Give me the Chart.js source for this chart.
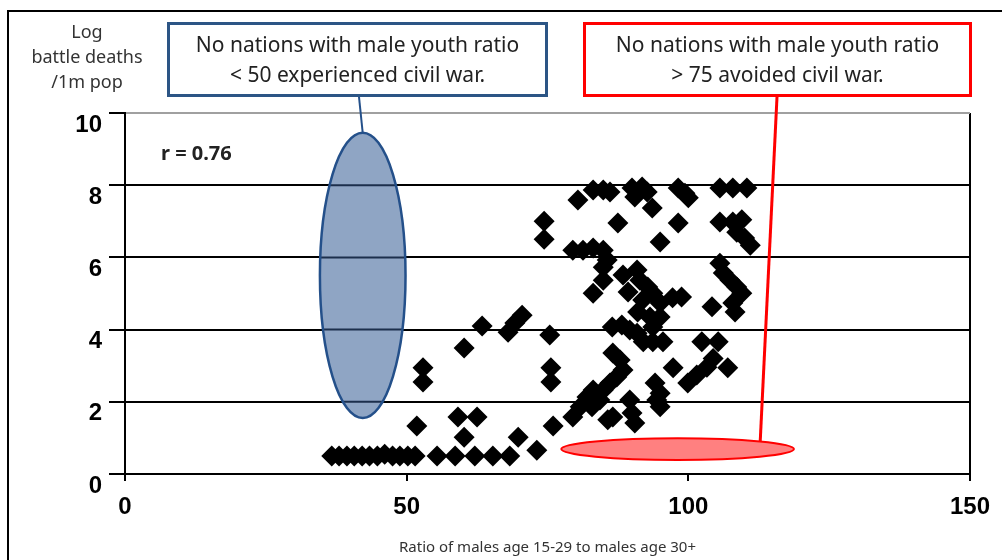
<!DOCTYPE html>
<html><head><meta charset="utf-8">
<script src="https://cdn.jsdelivr.net/npm/chart.js@4.4.1/dist/chart.umd.min.js"></script>
<style>
html,body{margin:0;padding:0;background:#fff;}
#wrap{position:relative;width:1002px;height:560px;overflow:hidden;font-family:"Noto Sans",sans-serif;}
#c{position:absolute;left:0;top:0;}
.frame{position:absolute;left:7px;top:10px;width:1100px;height:700px;border-left:2px solid #000;border-top:2px solid #000;pointer-events:none;}
.callout{position:absolute;top:22px;height:75px;background:#fff;box-sizing:border-box;text-align:center;font-size:21px;line-height:30px;color:#222;padding-top:4px;white-space:nowrap;}
#blueBox{left:167px;width:381px;border:3px solid #2c5585;}
#redBox{left:583px;width:389px;border:3px solid #ff0000;}
#ytitle{position:absolute;left:27px;width:120px;top:19px;text-align:center;font-size:18px;line-height:25px;color:#333;}
#rtext{position:absolute;left:161px;top:140px;font-size:20px;font-weight:bold;line-height:26px;color:#222;}
</style>
</head><body>
<div id="wrap">
<canvas id="c" width="1002" height="560"></canvas>
<div class="frame"></div>
<div id="ytitle">Log<br>battle deaths<br>/1m pop</div>
<div class="callout" id="blueBox">No nations with male youth ratio<br>&lt; 50 experienced civil war.</div>
<div class="callout" id="redBox">No nations with male youth ratio<br>&gt; 75 avoided civil war.</div>
<div id="rtext">r = 0.76</div>
</div>
<script>
// ---- data ----
const xValues = [
36.7,38.0,39.4,40.7,42.1,43.4,44.8,46.1,47.5,48.8,50.2,51.5,
55.4,58.6,62.1,65.3,68.3,
51.8,52.9,52.9,59.1,62.5,60.2,60.2,63.4,68.0,69.2,70.5,
75.4,75.6,75.6,76.0,69.8,73.1,74.4,74.4,
80.4,83.1,84.9,86.1,90.0,91.8,90.5,92.7,93.6,98.2,99.4,100.0,105.6,107.9,110.4,
87.5,98.2,95.0,105.6,107.9,109.5,108.6,110.0,111.0,
79.5,81.3,83.1,84.9,85.6,84.9,84.9,83.1,
88.4,90.9,89.3,91.4,92.8,91.9,93.7,95.0,97.2,98.8,
91.0,93.2,95.0,93.7,86.5,88.2,89.6,90.9,92.0,93.7,95.5,102.4,105.3,
104.4,103.3,101.5,99.9,107.0,97.3,
104.2,105.6,106.2,107.4,108.6,109.5,107.9,108.3,
86.6,87.9,88.4,87.3,86.1,84.9,83.1,82.0,80.8,79.5,82.9,84.3,
85.7,86.6,90.0,90.5,89.6,94.1,95.0,95.0,94.4
];
const yValues = [
0.5,0.5,0.5,0.5,0.5,0.5,0.5,0.55,0.5,0.5,0.5,0.5,
0.5,0.5,0.5,0.5,0.5,
1.33,2.94,2.55,1.58,1.58,1.02,3.49,4.1,3.93,4.18,4.4,
3.85,2.94,2.55,1.33,1.02,0.66,7.0,6.5,
7.59,7.87,7.87,7.81,7.92,7.95,7.67,7.81,7.37,7.92,7.78,7.65,7.92,7.92,7.92,
6.95,6.95,6.43,6.98,6.98,7.04,6.7,6.54,6.34,
6.2,6.2,6.26,6.2,5.93,5.73,5.37,5.01,
5.51,5.65,5.04,5.37,5.18,4.82,5.01,4.74,4.88,4.9,
4.49,4.35,4.35,4.07,4.07,4.13,3.99,3.9,3.66,3.66,3.66,3.66,3.66,
3.2,2.96,2.74,2.52,2.94,2.94,
4.63,5.84,5.57,5.37,5.18,5.01,4.74,4.49,
3.35,3.16,2.88,2.69,2.52,2.33,2.33,2.13,1.86,1.58,1.86,2.05,
1.5,1.58,1.69,1.41,2.05,2.52,2.24,1.86,2.05
];
const xTicks = [0, 50, 100, 150];
const yTicks = [0, 2, 4, 6, 8, 10];
const xTitle = 'Ratio of males age 15-29 to males age 30+';
// annotation ellipses in data units
const blueEllipse = {cx: 42.2, cy: 5.5, rx: 7.6, ry: 3.95};
const redEllipse = {cx: 98.1, cy: 0.69, rx: 20.65, ry: 0.3};

const points = xValues.map((v, i) => ({x: v, y: yValues[i]}));

function ellipsePx(chart, e) {
  const {x, y} = chart.scales;
  const cx = x.getPixelForValue(e.cx), cy = y.getPixelForValue(e.cy);
  const rx = Math.abs(x.getPixelForValue(e.cx + e.rx) - cx);
  const ry = Math.abs(y.getPixelForValue(e.cy + e.ry) - cy);
  return {cx, cy, rx, ry};
}
function drawEllipse(chart, p, fill, stroke, lw, gridThrough) {
  const ctx = chart.ctx;
  ctx.save();
  ctx.beginPath();
  ctx.ellipse(p.cx, p.cy, p.rx, p.ry, 0, 0, Math.PI * 2);
  ctx.fillStyle = fill; ctx.fill();
  if (gridThrough) {
    // horizontal gridlines remain visible through the shape
    ctx.save();
    ctx.clip();
    ctx.strokeStyle = '#1c2f4c'; ctx.lineWidth = 2;
    yTicks.forEach(v => {
      const py = chart.scales.y.getPixelForValue(v);
      ctx.beginPath(); ctx.moveTo(p.cx - p.rx - 2, py); ctx.lineTo(p.cx + p.rx + 2, py); ctx.stroke();
    });
    ctx.restore();
    ctx.beginPath();
    ctx.ellipse(p.cx, p.cy, p.rx, p.ry, 0, 0, Math.PI * 2);
  }
  ctx.lineWidth = lw; ctx.strokeStyle = stroke; ctx.stroke();
  ctx.restore();
}
const calloutPlugin = {
  id: 'callouts',
  beforeDatasetsDraw(chart) {
    drawEllipse(chart, ellipsePx(chart, blueEllipse), '#8fa5c4', '#24508a', 2.5, true);
    drawEllipse(chart, ellipsePx(chart, redEllipse), '#ff8080', '#ff0000', 2, false);
  },
  afterDraw(chart) {
    const ctx = chart.ctx;
    const b = ellipsePx(chart, blueEllipse);
    const r = ellipsePx(chart, redEllipse);
    ctx.save();
    ctx.lineWidth = 2; ctx.strokeStyle = '#24508a';
    ctx.beginPath(); ctx.moveTo(359, 97); ctx.lineTo(b.cx, b.cy - b.ry); ctx.stroke();
    ctx.lineWidth = 3; ctx.strokeStyle = '#ff0000';
    ctx.beginPath(); ctx.moveTo(777, 97); ctx.lineTo(r.cx + 0.71 * r.rx, r.cy - 0.7 * r.ry); ctx.stroke();
    ctx.restore();
  }
};

new Chart(document.getElementById('c'), {
  type: 'scatter',
  data: {datasets: [{
    data: points,
    pointStyle: 'rectRot',
    pointRadius: 10.5,
    pointHoverRadius: 10.5,
    backgroundColor: '#000',
    borderColor: '#000',
    borderWidth: 0
  }]},
  options: {
    responsive: false,
    animation: false,
    layout: {padding: {top: 113, right: 31, left: 0, bottom: 0}},
    plugins: {legend: {display: false}, tooltip: {enabled: false}},
    scales: {
      x: {
        type: 'linear', min: 0, max: 150,
        afterBuildTicks(s) { s.ticks = xTicks.map(v => ({value: v})); },
        afterFit(s) { s.height = 86; },
        grid: {
          color: c => (c.tick && c.tick.value === 150) ? '#000' : 'rgba(0,0,0,0)',
          tickColor: '#000', tickLength: 7, lineWidth: 2
        },
        border: {display: true, color: '#000', width: 2},
        ticks: {padding: 12, color: '#000', font: {family: '"Liberation Sans", Arial, sans-serif', size: 24, weight: 'bold'}},
        title: {display: true, text: xTitle, color: '#333', font: {family: '"Noto Sans", sans-serif', size: 15}, padding: {top: 4, bottom: 3}}
      },
      y: {
        type: 'linear', min: 0, max: 10,
        afterBuildTicks(s) { s.ticks = yTicks.map(v => ({value: v})); },
        afterFit(s) { s.width = 125; },
        grid: {
          color: c => (c.tick && c.tick.value === 10) ? '#a0a0a0' : '#000',
          tickColor: '#000', tickLength: 16, lineWidth: 2
        },
        border: {display: true, color: '#000', width: 2},
        ticks: {padding: 7, labelOffset: 12, color: '#000', font: {family: '"Liberation Sans", Arial, sans-serif', size: 24, weight: 'bold'}}
      }
    }
  },
  plugins: [calloutPlugin]
});
</script>
</body></html>
